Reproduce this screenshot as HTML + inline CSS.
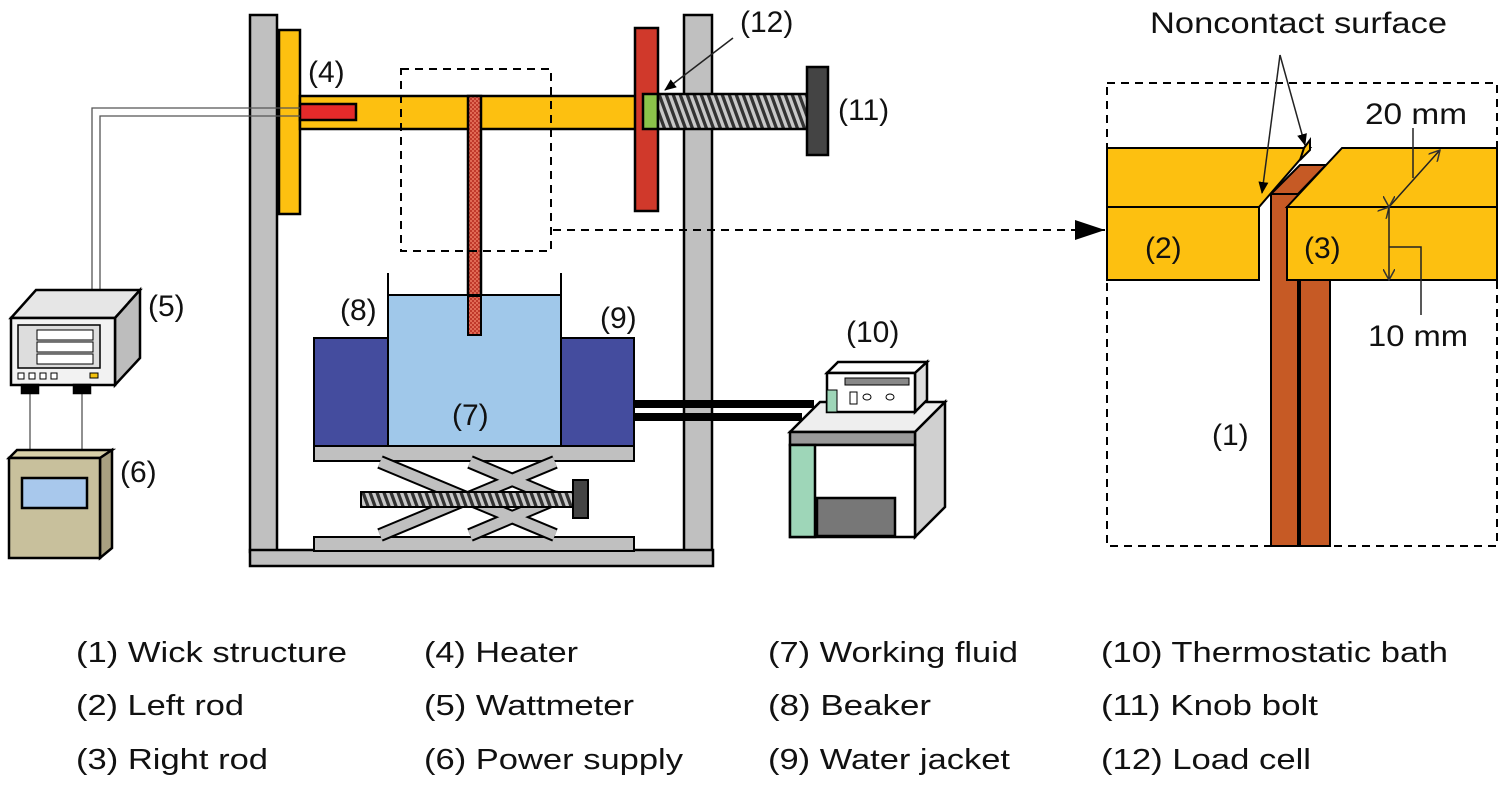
<!DOCTYPE html>
<html><head><meta charset="utf-8"><style>html,body{margin:0;padding:0;background:#fff}svg{display:block}text{font-family:"Liberation Sans",sans-serif;fill:#111}</style></head>
<body>
<svg width="1500" height="785" viewBox="0 0 1500 785" xmlns="http://www.w3.org/2000/svg">
<defs>
<pattern id="hatch" width="7" height="10" patternUnits="userSpaceOnUse" patternTransform="skewX(20)">
<rect width="7" height="10" fill="#c8c8c8"/><rect width="3.5" height="10" fill="#333"/></pattern>
<pattern id="chk" width="4" height="4" patternUnits="userSpaceOnUse"><rect width="4" height="4" fill="#e06a55"/><rect width="2" height="2" fill="#c0392b"/><rect x="2" y="2" width="2" height="2" fill="#c0392b"/></pattern>
<marker id="ah" markerWidth="12" markerHeight="10" refX="11" refY="5" orient="auto" markerUnits="userSpaceOnUse"><path d="M0,0 L12,5 L0,10 z" fill="#000"/></marker>
<marker id="ao" markerWidth="12" markerHeight="12" refX="11" refY="6" orient="auto" markerUnits="userSpaceOnUse"><path d="M0,0 L11,6 L0,12" fill="none" stroke="#333" stroke-width="1.5"/></marker>
</defs>
<g stroke="#000" stroke-width="2.5">
<rect x="250" y="15" width="27" height="537" fill="#c0c0c0"/>
<rect x="684" y="15" width="28" height="537" fill="#c0c0c0"/>
<rect x="250" y="550" width="463" height="16" fill="#c0c0c0"/>
<rect x="279" y="30" width="21" height="184" fill="#fdc010"/>
<rect x="300" y="96" width="340" height="33" fill="#fdc010"/>
<rect x="300" y="104" width="56" height="16" fill="#e52a2a"/>
<rect x="635" y="28" width="23" height="183" fill="#d0392b"/>
<rect x="643" y="94" width="15" height="35" fill="#8bc34a"/>
<rect x="658" y="94" width="150" height="35" fill="url(#hatch)"/>
<rect x="807" y="67" width="21" height="88" fill="#444"/>
<rect x="468" y="96" width="13" height="239" fill="url(#chk)"/>
</g>
<g fill="none" stroke="#555" stroke-width="1.3">
<path d="M92,290 V108 H300"/><path d="M100,290 V116 H300"/>
<path d="M30,393 V450"/><path d="M82,393 V450"/>
</g>
<rect x="401" y="69" width="150" height="182" fill="none" stroke="#000" stroke-width="2" stroke-dasharray="8,6"/>
<line x1="553" y1="230" x2="1105" y2="230" stroke="#000" stroke-width="2" stroke-dasharray="8,6"/>
<path d="M1075,220 L1105,230 L1075,240 z"/>
<g stroke="#000" stroke-width="2">
<rect x="314" y="338" width="74" height="108" fill="#444c9e"/>
<rect x="561" y="338" width="73" height="108" fill="#444c9e"/>
<rect x="388" y="295" width="173" height="151" fill="#a0c8ea"/>
<line x1="388" y1="273" x2="388" y2="446"/><line x1="561" y1="273" x2="561" y2="446"/>
<rect x="314" y="446" width="320" height="15" fill="#c0c0c0"/>
<rect x="314" y="537" width="320" height="14" fill="#c0c0c0"/>
</g>
<rect x="468" y="296" width="13" height="39" fill="url(#chk)" stroke="#000" stroke-width="2"/>
<g stroke-linecap="butt">
<g stroke="#000" stroke-width="14"><line x1="380" y1="462" x2="555" y2="535"/><line x1="555" y1="462" x2="380" y2="535"/><line x1="470" y1="462" x2="560" y2="500"/><line x1="470" y1="535" x2="560" y2="497"/></g>
<g stroke="#c0c0c0" stroke-width="10"><line x1="380" y1="462" x2="555" y2="535"/><line x1="555" y1="462" x2="380" y2="535"/><line x1="470" y1="462" x2="560" y2="500"/><line x1="470" y1="535" x2="560" y2="497"/></g>
</g>
<rect x="361" y="492" width="212" height="15" fill="url(#hatch)" stroke="#000" stroke-width="2"/>
<rect x="573" y="480" width="15" height="38" fill="#444" stroke="#000" stroke-width="2"/>
<rect x="634" y="400" width="180" height="8" fill="#000"/>
<rect x="634" y="413" width="168" height="8" fill="#000"/>
<g stroke="#000" stroke-width="2.5">
<polygon points="790,432 820,402 945,402 915,432" fill="#eee"/>
<polygon points="915,432 945,402 945,507 915,537" fill="#d0d0d0"/>
<rect x="790" y="432" width="125" height="13" fill="#999"/>
<rect x="790" y="445" width="125" height="92" fill="#fff"/>
<rect x="790" y="445" width="25" height="92" fill="#9ed6b8"/>
<rect x="817" y="498" width="78" height="38" fill="#777"/>
<polygon points="827,373 838,362 927,362 915,373" fill="#fff"/>
<polygon points="915,373 927,362 927,400 915,412" fill="#ddd"/>
<rect x="827" y="373" width="88" height="39" fill="#fff"/>
<rect x="827" y="390" width="10" height="22" fill="#9ed6b8" stroke-width="1"/>
<rect x="845" y="378" width="64" height="7" fill="#888" stroke-width="1"/>
<rect x="850" y="392" width="7" height="12" fill="#fff" stroke-width="1"/>
<ellipse cx="867" cy="397" rx="4" ry="3" fill="#fff" stroke-width="1"/>
<ellipse cx="890" cy="397" rx="4" ry="3" fill="#fff" stroke-width="1"/>
</g>
<g stroke="#000" stroke-width="2.5">
<polygon points="11,318 36,290 140,290 115,318" fill="#e6e6e6"/>
<polygon points="115,318 140,290 140,358 115,385" fill="#bdbdbd"/>
<rect x="11" y="318" width="104" height="67" fill="#f2f2f2"/>
<rect x="18" y="325" width="82" height="43" fill="#ddd" stroke-width="1.5"/>
<rect x="37" y="330" width="56" height="10" fill="#fff" stroke-width="1"/>
<rect x="37" y="342" width="56" height="10" fill="#fff" stroke-width="1"/>
<rect x="37" y="354" width="56" height="10" fill="#fff" stroke-width="1"/>
<rect x="18" y="373" width="6" height="6" fill="#fff" stroke-width="1"/>
<rect x="29" y="373" width="6" height="6" fill="#fff" stroke-width="1"/>
<rect x="40" y="373" width="6" height="6" fill="#fff" stroke-width="1"/>
<rect x="51" y="373" width="6" height="6" fill="#fff" stroke-width="1"/>
<rect x="90" y="373" width="8" height="5" fill="#f4c20d" stroke-width="1"/>
<rect x="22" y="385" width="16" height="8" fill="#000"/><rect x="74" y="385" width="16" height="8" fill="#000"/>
</g>
<g stroke="#000" stroke-width="2.5">
<polygon points="9,458 17,450 112,450 100,458" fill="#d8d0a8"/>
<polygon points="100,458 112,450 112,548 100,558" fill="#a8a080"/>
<rect x="9" y="458" width="91" height="100" fill="#c8c09c"/>
<rect x="22" y="478" width="65" height="30" fill="#a8c8ec"/>
</g>
<rect x="1107" y="83" width="390" height="463" fill="none" stroke="#000" stroke-width="2" stroke-dasharray="8,6"/>
<g stroke="#000" stroke-width="2">
<polygon points="1107,148 1310,148 1259,207 1107,207" fill="#fdc010"/>
<rect x="1107" y="207" width="152" height="73" fill="#fdc010"/>
<polygon points="1304,148 1310,140 1310,150 1300,160" fill="#fdc010"/>
<rect x="1300" y="270" width="30" height="276" fill="#c65a25"/>
<rect x="1271" y="194" width="27" height="352" fill="#c65a25"/>
<polygon points="1271,194 1298,194 1326,165 1300,165" fill="#c65a25"/>
<polygon points="1287,207 1342,148 1497,148 1497,207" fill="#fdc010"/>
<rect x="1287" y="207" width="210" height="73" fill="#fdc010"/>
</g>
<g stroke="#222" stroke-width="1.5" fill="none">
<line x1="1280" y1="55" x2="1262" y2="193" marker-end="url(#ah)"/>
<line x1="1280" y1="55" x2="1305" y2="145" marker-end="url(#ah)"/>
<line x1="1413" y1="128" x2="1413" y2="178"/>
<line x1="1389" y1="207" x2="1440" y2="150" marker-end="url(#ao)" marker-start="url(#ao)"/>
<line x1="1389" y1="207" x2="1389" y2="280" marker-end="url(#ao)" marker-start="url(#ao)"/>
<path d="M1389,247 H1421 V315"/>
<line x1="733" y1="38" x2="665" y2="90" marker-end="url(#ah)"/>
</g>
<g font-size="30">
<text x="1150" y="33" textLength="297" lengthAdjust="spacingAndGlyphs">Noncontact surface</text>
<text x="1365" y="124" textLength="102" lengthAdjust="spacingAndGlyphs">20 mm</text>
<text x="1368" y="346" textLength="100" lengthAdjust="spacingAndGlyphs">10 mm</text>
<text x="1145" y="258">(2)</text>
<text x="1304" y="258">(3)</text>
<text x="1212" y="445">(1)</text>
<text x="308" y="82">(4)</text>
<text x="740" y="32">(12)</text>
<text x="838" y="120">(11)</text>
<text x="148" y="316">(5)</text>
<text x="120" y="482">(6)</text>
<text x="340" y="320">(8)</text>
<text x="600" y="328">(9)</text>
<text x="452" y="425">(7)</text>
<text x="846" y="342">(10)</text>
</g>
<g font-size="29">
<text x="76" y="662" textLength="271" lengthAdjust="spacingAndGlyphs">(1) Wick structure</text>
<text x="76" y="715" textLength="168" lengthAdjust="spacingAndGlyphs">(2) Left rod</text>
<text x="76" y="769" textLength="192" lengthAdjust="spacingAndGlyphs">(3) Right rod</text>
<text x="424" y="662" textLength="154" lengthAdjust="spacingAndGlyphs">(4) Heater</text>
<text x="424" y="715" textLength="210" lengthAdjust="spacingAndGlyphs">(5) Wattmeter</text>
<text x="424" y="769" textLength="259" lengthAdjust="spacingAndGlyphs">(6) Power supply</text>
<text x="768" y="662" textLength="250" lengthAdjust="spacingAndGlyphs">(7) Working fluid</text>
<text x="768" y="715" textLength="163" lengthAdjust="spacingAndGlyphs">(8) Beaker</text>
<text x="768" y="769" textLength="242" lengthAdjust="spacingAndGlyphs">(9) Water jacket</text>
<text x="1101" y="662" textLength="347" lengthAdjust="spacingAndGlyphs">(10) Thermostatic bath</text>
<text x="1101" y="715" textLength="217" lengthAdjust="spacingAndGlyphs">(11) Knob bolt</text>
<text x="1101" y="769" textLength="210" lengthAdjust="spacingAndGlyphs">(12) Load cell</text>
</g>
</svg>
</body></html>
